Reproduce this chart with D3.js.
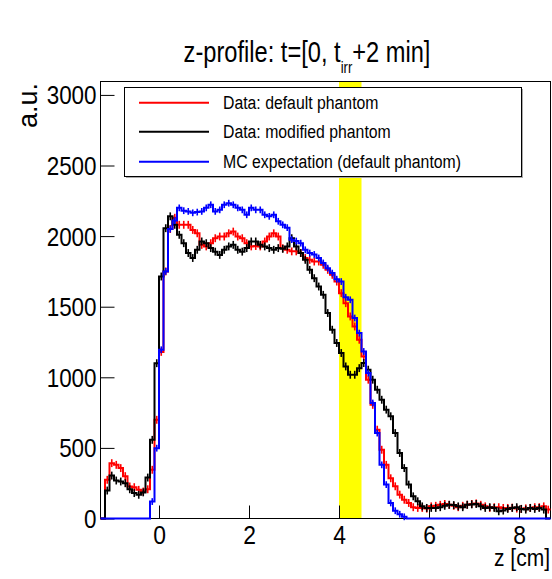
<!DOCTYPE html>
<html><head><meta charset="utf-8">
<script src="https://cdn.jsdelivr.net/npm/d3@7"></script>
<style>
body{margin:0;background:#fff}
svg{display:block}
text{font-family:'Liberation Sans',Arial,Helvetica,sans-serif;fill:#000}
</style>
</head><body>
<svg id="c" width="552" height="579"></svg>
<script>
// ---- data ----
const zStart = -1.3;      // left edge of first bin [cm]
const binWidth = 0.1;     // [cm]
const dataDefault = [0,274,392,380,357,300,227,222,203,191,207,345,699,1180,1750,2050,2130,2080,2080,2080,
  2044,2020,1938,1927,1950,1985,1997,1997,2020,2032,1997,1985,1950,1927,1930,1927,1962,1997,2020,1997,
  1914,1903,1892,1892,1880,1845,1832,1820,1820,1797,1761,1726,1678,1596,1525,1431,1360,1266,1148,983,
  805,629,487,380,285,228,169,133,110,80,75,75,70,86,90,97,103,97,90,80,
  90,98,103,107,97,86,75,80,80,75,75,77,70,68,72,75,80,80,86,63];
const dataModified = [0,198,304,269,262,250,207,180,168,185,290,557,1100,1714,2056,2140,2080,2009,1950,1880,
  1845,1903,1962,1950,1915,1890,1867,1903,1927,1938,1903,1890,1915,1962,1962,1938,1927,1915,1903,1915,
  1910,1927,1985,1927,1880,1832,1761,1702,1643,1584,1455,1337,1243,1172,1077,1018,1018,1065,1101,1054,
  983,912,841,771,724,605,464,357,240,157,122,86,75,75,75,80,90,97,95,86,
  80,97,100,103,86,75,80,75,51,56,68,75,80,68,63,75,68,75,63,0];
const mcExpectation = [0,0,0,0,0,0,0,0,0,0,0,120,498,1195,1750,2050,2110,2200,2180,2175,
  2165,2170,2175,2200,2222,2175,2186,2222,2233,2222,2200,2186,2151,2200,2186,2186,2151,2140,2151,2105,
  2080,2060,1975,1965,1950,1903,1880,1870,1845,1810,1773,1738,1695,1678,1567,1549,1420,1313,1183,1030,
  818,605,380,240,110,55,30,12,0,0,0,0,0,0,0,0,0,0,0,0,
  0,0,0,0,0,0,0,0,0,0,0,0,0,0,0,0,0,0,0,0];
const errDefault = 28, errModified = 28, errMC = 24;
const yTicks = [0,500,1000,1500,2000,2500,3000];
const xTicks = [0,2,4,6,8];
const irrBand = [4.0, 4.5];
const legendLabels = ["Data: default phantom","Data: modified phantom","MC expectation (default phantom)"];
const seriesColors = ["#ff0000","#000000","#0000ff"];
const xDomain = [-1.3, 8.7];
const yDomain = [0, 3095];

// ---- layout ----
const L = 100.5, R = 550.5, T = 81.5, B = 518.5;
const svg = d3.select('#c');
const x = d3.scaleLinear().domain(xDomain).range([L, R]);
const y = d3.scaleLinear().domain(yDomain).range([B, T]);

function fitText(sel, target){
  const w = sel.node().getBBox().width;
  if (w > 0) sel.attr('transform', `scale(${target / w},1)`);
}

// yellow band
svg.append('rect')
  .attr('x', x(irrBand[0])).attr('y', T)
  .attr('width', x(irrBand[1]) - x(irrBand[0])).attr('height', B - T)
  .attr('fill', '#ffff00');

// axes (ticks inward)
const gy = svg.append('g').attr('transform', `translate(${L},0)`);
gy.call(d3.axisLeft(y).tickValues(d3.range(0, 3001, 100)).tickSizeInner(-7).tickSizeOuter(0).tickFormat(''));
gy.call(d3.axisLeft(y).tickValues(yTicks).tickSizeInner(-14).tickSizeOuter(0).tickPadding(4).tickFormat(d3.format('d')));
gy.selectAll('.domain').remove();
gy.selectAll('.tick line').attr('stroke', '#000');
gy.selectAll('.tick text').attr('font-size', 25.5).attr('x', -4.5).attr('dy', '0.35em')
  .attr('font-family', "'Liberation Sans',Arial,sans-serif").attr('transform', 'scale(0.88,1)');

const gx = svg.append('g').attr('transform', `translate(0,${B})`);
gx.call(d3.axisBottom(x).tickValues(d3.range(-1, 8.51, 0.5)).tickSizeInner(-6.5).tickSizeOuter(0).tickFormat(''));
gx.call(d3.axisBottom(x).tickValues(xTicks).tickSizeInner(-13).tickSizeOuter(0).tickFormat(d3.format('d')));
gx.selectAll('.domain').remove();
gx.selectAll('.tick line').attr('stroke', '#000');
gx.selectAll('.tick text').attr('font-size', 26).attr('y', 26).attr('dy', 0)
  .attr('font-family', "'Liberation Sans',Arial,sans-serif").attr('transform', 'scale(0.88,1)');

// frame
svg.append('rect').attr('x', L).attr('y', T).attr('width', R - L).attr('height', B - T)
  .attr('fill', 'none').attr('stroke', '#000').attr('stroke-width', 1);

// histograms
const line = d3.line().curve(d3.curveStepAfter).x(d => x(d[0])).y(d => y(d[1]));
function drawHist(vals, color, err){
  const pts = vals.map((v, i) => [zStart + i * binWidth, v]);
  pts.push([zStart + vals.length * binWidth, vals[vals.length - 1]]);
  const g = svg.append('g');
  g.append('path').attr('d', line(pts)).attr('fill', 'none')
    .attr('stroke', color).attr('stroke-width', 2);
  g.selectAll('line.err').data(vals.map((v, i) => [zStart + (i + 0.5) * binWidth, v]).filter(d => d[1] > 0))
    .join('line').attr('class', 'err')
    .attr('x1', d => x(d[0])).attr('x2', d => x(d[0]))
    .attr('y1', d => y(d[1] - err)).attr('y2', d => y(d[1] + err))
    .attr('stroke', color).attr('stroke-width', 1.6);
}
drawHist(dataDefault, seriesColors[0], errDefault);
drawHist(dataModified, seriesColors[1], errModified);
drawHist(mcExpectation, seriesColors[2], errMC);

// legend
const lg = svg.append('g');
lg.append('rect').attr('x', 126).attr('y', 89).attr('width', 397).attr('height', 89).attr('fill', '#aaa');
lg.append('rect').attr('x', 124.5).attr('y', 87.5).attr('width', 397).attr('height', 89)
  .attr('fill', '#fff').attr('stroke', '#000').attr('stroke-width', 1);
const rowsY = [102.7, 131.7, 161.7];
legendLabels.forEach((lab, i) => {
  lg.append('line').attr('x1', 139).attr('x2', 209).attr('y1', rowsY[i]).attr('y2', rowsY[i])
    .attr('stroke', seriesColors[i]).attr('stroke-width', 2);
  const g = lg.append('g').attr('transform', `translate(223,${rowsY[i] + 5.8})`);
  g.append('text').attr('font-size', 18.6).text(lab).attr('transform', 'scale(0.85,1)');
});

// title
const tg = svg.append('g').attr('transform', 'translate(307,61.5)');
const tt = tg.append('text').attr('text-anchor', 'middle').attr('font-size', 29);
tt.append('tspan').text('z-profile: t=[0, t');
tt.append('tspan').attr('font-size', 16).attr('dy', 11).text('irr');
tt.append('tspan').attr('dy', -11).text('+2 min]');
fitText(tt, 247);

// axis titles
const xt = svg.append('g').attr('transform', 'translate(550,566)')
  .append('text').attr('text-anchor', 'end').attr('font-size', 24).text('z [cm]');
fitText(xt, 56);
const yt = svg.append('g').attr('transform', 'translate(37,83) rotate(-90)')
  .append('text').attr('text-anchor', 'end').attr('font-size', 27).text('a.u.');
fitText(yt, 45);
</script>
</body></html>
